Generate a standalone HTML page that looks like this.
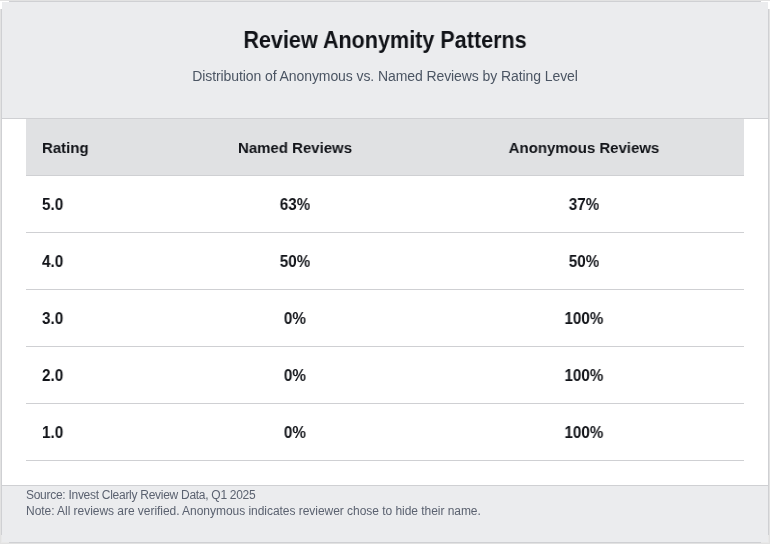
<!DOCTYPE html>
<html>
<head>
<meta charset="utf-8">
<style>
html,body{margin:0;padding:0;width:770px;height:544px;overflow:hidden;background:#e2e2e2;}
.w{position:absolute;background:#fff;z-index:5;}
.w.g{background:#e8e8e8;}
body{font-family:"Liberation Sans",sans-serif;position:relative;-webkit-font-smoothing:antialiased;}
.card *{will-change:transform;}
.card{position:absolute;left:1px;top:1px;width:766px;height:540px;border:1px solid #cfd0d3;background:#fff;}
.hdr{position:absolute;left:0;top:0;width:766px;height:116px;background:#ebecee;border-bottom:1px solid #cfd0d3;}
.title{position:absolute;left:0;width:766px;text-align:center;color:#111318;white-space:nowrap;line-height:1;}
.sub{position:absolute;left:0;width:766px;text-align:center;color:#4b5563;white-space:nowrap;line-height:1;}
.row{position:absolute;left:24px;width:718px;height:56px;border-bottom:1px solid #cfd0d3;}
.row.h{background:#e0e1e3;}
.c{position:absolute;color:#111318;white-space:nowrap;line-height:1;}
.foot{position:absolute;left:0;top:483px;width:766px;height:56px;background:#ebecee;border-top:1px solid #cfd0d3;}
.ft{position:absolute;left:24px;color:#5b6270;font-size:12px;white-space:nowrap;line-height:1;}
</style>
</head>
<body>
<div class="card">
<div class="hdr">
<div class="title" style="top:26px;font-size:24px;letter-spacing:0px;font-weight:bold;transform:scaleX(0.899)">Review Anonymity Patterns</div>
<div class="sub" style="top:67px;font-size:14px;letter-spacing:-0.085px">Distribution of Anonymous vs. Named Reviews by Rating Level</div>
</div>
<div class="row h" style="top:117px"><div class="c" style="left:15.80px;transform-origin:0 0;font-size:15.5px;letter-spacing:0px;font-weight:bold;top:21px;transform:scaleX(0.966)">Rating</div><div class="c" style="left:119.00px;width:300px;text-align:center;font-size:15.5px;letter-spacing:0px;font-weight:bold;top:21px;transform:scaleX(0.966)">Named Reviews</div><div class="c" style="left:408.30px;width:300px;text-align:center;font-size:15.5px;letter-spacing:0px;font-weight:bold;top:21px;transform:scaleX(0.966)">Anonymous Reviews</div></div>
<div class="row" style="top:174px"><div class="c" style="left:15.80px;transform-origin:0 0;font-size:15.75px;letter-spacing:0px;font-weight:bold;top:21px;transform:scaleX(0.965)">5.0</div><div class="c" style="left:119.00px;width:300px;text-align:center;font-size:15.75px;letter-spacing:0px;font-weight:bold;top:21px;transform:scaleX(0.965)">63%</div><div class="c" style="left:408.30px;width:300px;text-align:center;font-size:15.75px;letter-spacing:0px;font-weight:bold;top:21px;transform:scaleX(0.965)">37%</div></div>
<div class="row" style="top:231px"><div class="c" style="left:15.80px;transform-origin:0 0;font-size:15.75px;letter-spacing:0px;font-weight:bold;top:21px;transform:scaleX(0.965)">4.0</div><div class="c" style="left:119.00px;width:300px;text-align:center;font-size:15.75px;letter-spacing:0px;font-weight:bold;top:21px;transform:scaleX(0.965)">50%</div><div class="c" style="left:408.30px;width:300px;text-align:center;font-size:15.75px;letter-spacing:0px;font-weight:bold;top:21px;transform:scaleX(0.965)">50%</div></div>
<div class="row" style="top:288px"><div class="c" style="left:15.80px;transform-origin:0 0;font-size:15.75px;letter-spacing:0px;font-weight:bold;top:21px;transform:scaleX(0.965)">3.0</div><div class="c" style="left:119.00px;width:300px;text-align:center;font-size:15.75px;letter-spacing:0px;font-weight:bold;top:21px;transform:scaleX(0.965)">0%</div><div class="c" style="left:408.30px;width:300px;text-align:center;font-size:15.75px;letter-spacing:0px;font-weight:bold;top:21px;transform:scaleX(0.965)">100%</div></div>
<div class="row" style="top:345px"><div class="c" style="left:15.80px;transform-origin:0 0;font-size:15.75px;letter-spacing:0px;font-weight:bold;top:21px;transform:scaleX(0.965)">2.0</div><div class="c" style="left:119.00px;width:300px;text-align:center;font-size:15.75px;letter-spacing:0px;font-weight:bold;top:21px;transform:scaleX(0.965)">0%</div><div class="c" style="left:408.30px;width:300px;text-align:center;font-size:15.75px;letter-spacing:0px;font-weight:bold;top:21px;transform:scaleX(0.965)">100%</div></div>
<div class="row" style="top:402px"><div class="c" style="left:15.80px;transform-origin:0 0;font-size:15.75px;letter-spacing:0px;font-weight:bold;top:21px;transform:scaleX(0.965)">1.0</div><div class="c" style="left:119.00px;width:300px;text-align:center;font-size:15.75px;letter-spacing:0px;font-weight:bold;top:21px;transform:scaleX(0.965)">0%</div><div class="c" style="left:408.30px;width:300px;text-align:center;font-size:15.75px;letter-spacing:0px;font-weight:bold;top:21px;transform:scaleX(0.965)">100%</div></div>
<div class="foot">
<div class="ft" style="top:3px;letter-spacing:-0.28px">Source: Invest Clearly Review Data, Q1 2025</div>
<div class="ft" style="top:19px;letter-spacing:-0.04px">Note: All reviews are verified. Anonymous indicates reviewer chose to hide their name.</div>
</div>
</div>
<div class="w" style="left:0;top:1px;width:2px;height:8px"></div><div class="w" style="left:2px;top:1px;width:7px;height:1px"></div>
<div class="w" style="left:768px;top:1px;width:2px;height:8px"></div><div class="w" style="left:761px;top:1px;width:7px;height:1px"></div>
<div class="w g" style="left:1px;top:535px;width:1px;height:8px"></div><div class="w g" style="left:1px;top:542px;width:8px;height:1px"></div>
<div class="w g" style="left:768px;top:535px;width:1px;height:8px"></div><div class="w g" style="left:761px;top:542px;width:8px;height:1px"></div>
</body>
</html>
